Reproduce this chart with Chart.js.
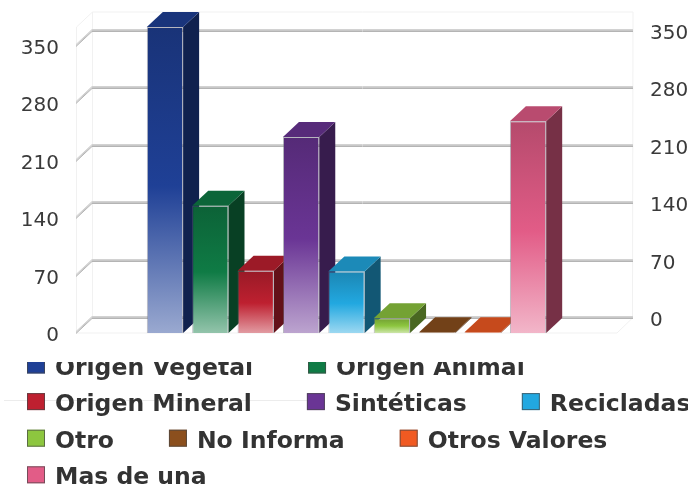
<!DOCTYPE html>
<html><head><meta charset="utf-8">
<style>html,body{margin:0;padding:0;background:#fff;overflow:hidden}canvas{display:block}</style>
<script src="https://cdn.jsdelivr.net/npm/chart.js@4"></script>
</head><body><canvas id="c" width="688" height="487"></canvas>
<script>
const seriesNames=['Origen Vegetal','Origen Animal','Origen Mineral','Sintéticas','Recicladas','Otro','No Informa','Otros Valores','Mas de una'];
const seriesValues=[373,155,76,239,75,18,1,1,258];
const seriesColors=['#1f4096','#0f7b45','#be2030','#6a3595','#22a8e0','#8dc63f','#8b4f1d','#f15a22','#e25c87'];
const yTicks=[0,70,140,210,280,350];
const axisMax=373;
const legendRows=[[0,1],[2,3,4],[5,6,7],[8]];
const DX=16,DY=15;
function rgb(h){return [1,3,5].map(i=>parseInt(h.substr(i,2),16));}
function shade(h,f){const c=rgb(h);return `rgb(${c.map(v=>f<=1?Math.round(v*f):Math.round(v+(255-v)*(f-1))).join(',')})`;}
const wall3d={id:'wall3d',beforeDatasetsDraw(ch){
  const c=ch.ctx,a=ch.chartArea,s=ch.scales.y;
  c.save();
  c.strokeStyle='#f1f1f1';c.lineWidth=1;
  c.beginPath();
  c.moveTo(a.left+.5,a.bottom);c.lineTo(a.left+.5,a.top);c.lineTo(a.left+DX+.5,a.top-DY);c.lineTo(a.right+DX,a.top-DY);c.lineTo(a.right+DX-.5,a.bottom-DY);c.lineTo(a.right,a.bottom);c.lineTo(a.left,a.bottom);
  c.moveTo(a.left+DX+.5,a.top-DY);c.lineTo(a.left+DX+.5,a.bottom-DY);
  c.stroke();
  yTicks.forEach(v=>{const y=Math.round(s.getPixelForValue(v));
    c.lineWidth=1;
    [['#d2d2d2',-1.5],['#c8c8c8',-.5],['#b4b4b4',.5]].forEach(([col,o])=>{
      c.strokeStyle=col;c.beginPath();
      c.moveTo(a.left,y+o);c.lineTo(a.left+DX,y-DY+o);c.lineTo(a.right+DX,y-DY+o);c.stroke();
    });
  });
  ch.getSortedVisibleDatasetMetas().forEach((m,i)=>{
    const b=m.data[0],l=b.x-b.width/2,r=b.x+b.width/2,t=b.y,bt=b.base,col=seriesColors[i];
    c.fillStyle=shade(col,.52);c.beginPath();c.moveTo(r,t);c.lineTo(r+DX,t-DY);c.lineTo(r+DX,bt-DY);c.lineTo(r,bt);c.closePath();c.fill();
    c.fillStyle=shade(col,.82);c.beginPath();c.moveTo(l,t);c.lineTo(l+DX,t-DY);c.lineTo(r+DX,t-DY);c.lineTo(r,t);c.closePath();c.fill();
  });
  c.restore();
}};
const legendPlugin={id:'legendRows',afterDraw(ch){
  const c=ch.ctx;c.save();
  c.strokeStyle='#ececec';c.lineWidth=1;c.beginPath();c.moveTo(4,400.5);c.lineTo(310,400.5);c.stroke();
  c.beginPath();c.rect(0,362,688,125);c.clip();
  c.font="bold 23.5px 'DejaVu Sans'";c.textBaseline='alphabetic';
  legendRows.forEach((row,ri)=>{
    let x=27;const base=374.5+ri*36.6;
    row.forEach(i=>{
      c.fillStyle=seriesColors[i];c.fillRect(x,base-18,18,17);
      c.strokeStyle='rgba(70,70,70,.7)';c.lineWidth=1;c.strokeRect(x+.5,base-17.5,17,16);
      c.fillStyle='#333';c.fillText(seriesNames[i],x+28,base);
      x+=28+c.measureText(seriesNames[i]).width+55;
    });
  });
  c.restore();
}};
const datasets=seriesNames.map((n,i)=>({label:n,data:[seriesValues[i]],yAxisID:'y',
  borderWidth:1,borderColor:'rgba(110,110,125,.5)',
  backgroundColor(ctx){
    const ch=ctx.chart,s=ch.scales.y,col=seriesColors[i];
    if(!s)return col;
    const y0=s.getPixelForValue(seriesValues[i]),y1=s.getPixelForValue(0);
    if(!isFinite(y0)||!isFinite(y1))return col;
    const g=ch.ctx.createLinearGradient(0,y0,0,y1);
    g.addColorStop(0,shade(col,.8));g.addColorStop(.52,col);g.addColorStop(1,shade(col,1.55));
    return g;}
}));
const tickFont={family:"'DejaVu Sans'",size:20};
function fitAxis(w){return s=>{s.width=w;s.paddingTop=0;s.paddingBottom=0;};}
new Chart(document.getElementById('c'),{type:'bar',
 data:{labels:[''],datasets},
 plugins:[wall3d,legendPlugin],
 options:{responsive:false,animation:false,
  layout:{padding:{top:27,bottom:154,left:0,right:0}},
  datasets:{bar:{barPercentage:.8,categoryPercentage:.755}},
  plugins:{legend:{display:false},tooltip:{enabled:false},title:{display:false}},
  scales:{
   x:{display:false},
   y:{position:'left',min:0,max:axisMax,afterBuildTicks(s){s.ticks=yTicks.map(value=>({value}));},afterFit:fitAxis(76),
      grid:{display:false},border:{display:false},
      ticks:{font:tickFont,color:'#3a3a3a',padding:9,labelOffset:3,autoSkip:false,stepSize:70}},
   y2:{position:'right',min:0,max:axisMax,afterBuildTicks(s){s.ticks=yTicks.map(value=>({value}));},afterFit:fitAxis(71),
      grid:{display:false},border:{display:false},
      ticks:{font:tickFont,color:'#3a3a3a',padding:25,labelOffset:-12,autoSkip:false,stepSize:70}}
  }}});
</script></body></html>
